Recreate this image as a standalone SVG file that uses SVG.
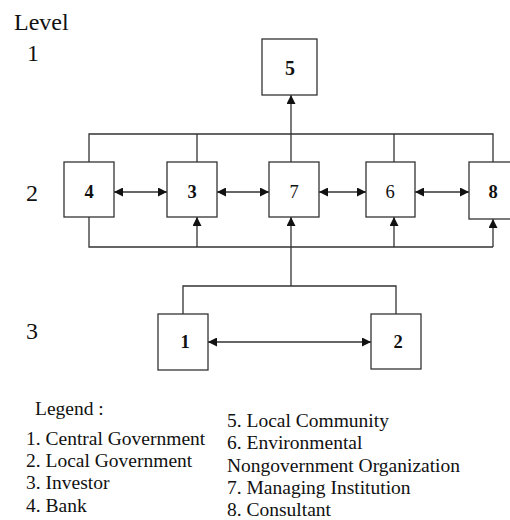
<svg xmlns="http://www.w3.org/2000/svg" width="510" height="520" viewBox="0 0 510 520">
  <style>
    .box { fill: #fff; stroke: #333; stroke-width: 1.3; }
    .wire { fill: none; stroke: #333; stroke-width: 1.3; }
    text { font-family: "Liberation Serif", "Times New Roman", serif; fill: #111; }
    .num { font-size: 18.5px; text-anchor: middle; }
    .b { font-weight: bold; }
    .lvl { font-size: 24px; }
    .leg { font-size: 19.5px; }
  </style>
  <defs>
    <marker id="head" viewBox="0 0 10 10" refX="10" refY="5" markerWidth="9" markerHeight="9" markerUnits="userSpaceOnUse" orient="auto-start-reverse">
      <path d="M0,0 L10,5 L0,10 Z" fill="#111"/>
    </marker>
  </defs>

  <rect width="510" height="520" fill="#fff"/>

  <!-- level labels -->
  <text class="lvl" x="14" y="30">Level</text>
  <text class="lvl" x="27" y="61">1</text>
  <text class="lvl" x="26" y="201">2</text>
  <text class="lvl" x="26" y="339">3</text>

  <!-- connectors -->
  <g id="connectors">
    <!-- upper bus over level 2 -->
    <path class="wire" d="M89,162 V134 H493 V162 M197,134 V162 M394,134 V162"/>
    <path class="wire" d="M291,162 V95" marker-end="url(#head)"/>
    <!-- lower bus under level 2 -->
    <path class="wire" d="M89,217 V247 H493"/>
    <path class="wire" d="M197,247 V217" marker-end="url(#head)"/>
    <path class="wire" d="M394,247 V217" marker-end="url(#head)"/>
    <path class="wire" d="M493,247 V219" marker-end="url(#head)"/>
    <path class="wire" d="M291,286 V217" marker-end="url(#head)"/>
    <!-- level 3 bracket -->
    <path class="wire" d="M183,314 V286 H396 V314"/>
    <!-- two-way links -->
    <path class="wire" d="M114,192 H167" marker-start="url(#head)" marker-end="url(#head)"/>
    <path class="wire" d="M217,192 H269" marker-start="url(#head)" marker-end="url(#head)"/>
    <path class="wire" d="M319,192 H366" marker-start="url(#head)" marker-end="url(#head)"/>
    <path class="wire" d="M415,192 H469" marker-start="url(#head)" marker-end="url(#head)"/>
    <path class="wire" d="M208,342 H371" marker-start="url(#head)" marker-end="url(#head)"/>
  </g>

  <!-- nodes -->
  <g id="node5">
    <rect class="box" x="262" y="39" width="55" height="56"/>
    <text class="num b" x="290" y="75" style="font-size:20px">5</text>
  </g>
  <g id="node4">
    <rect class="box" x="64" y="162" width="50" height="55"/>
    <text class="num b" x="89" y="198">4</text>
  </g>
  <g id="node3">
    <rect class="box" x="167" y="162" width="50" height="55"/>
    <text class="num b" x="192" y="198">3</text>
  </g>
  <g id="node7">
    <rect class="box" x="269" y="162" width="50" height="55"/>
    <text class="num" x="294" y="198">7</text>
  </g>
  <g id="node6">
    <rect class="box" x="366" y="162" width="49" height="55"/>
    <text class="num" x="390" y="198">6</text>
  </g>
  <g id="node8">
    <rect class="box" x="469" y="162" width="50" height="57"/>
    <text class="num b" x="493" y="198">8</text>
  </g>
  <g id="node1">
    <rect class="box" x="158" y="314" width="50" height="56"/>
    <text class="num b" x="185" y="348">1</text>
  </g>
  <g id="node2">
    <rect class="box" x="371" y="314" width="50" height="55"/>
    <text class="num b" x="398" y="348">2</text>
  </g>

  <!-- legend -->
  <g id="legend">
    <text class="leg" x="35" y="415">Legend :</text>
    <text class="leg" x="26" y="445">1. Central Government</text>
    <text class="leg" x="26" y="467">2. Local Government</text>
    <text class="leg" x="26" y="489">3. Investor</text>
    <text class="leg" x="26" y="512">4. Bank</text>
    <text class="leg" x="227" y="427">5. Local Community</text>
    <text class="leg" x="227" y="449">6. Environmental</text>
    <text class="leg" x="227" y="472">Nongovernment Organization</text>
    <text class="leg" x="227" y="494">7. Managing Institution</text>
    <text class="leg" x="227" y="516">8. Consultant</text>
  </g>
</svg>
